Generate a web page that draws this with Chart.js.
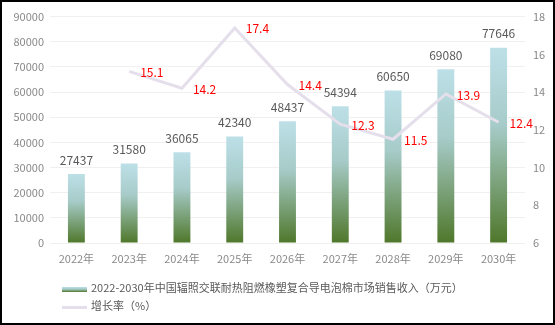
<!DOCTYPE html>
<html><head><meta charset="utf-8">
<script src="https://cdn.jsdelivr.net/npm/chart.js@4"></script>
<style>
html,body{margin:0;padding:0;background:#fff;}
#wrap{position:relative;width:555px;height:325px;box-sizing:border-box;border:2px solid #000;background:#fff;}
#c{position:absolute;left:0;top:0;}
.lg{position:absolute;left:60px;font:11px "Noto Sans CJK SC","Noto Sans",sans-serif;color:#595959;white-space:nowrap;line-height:14px;}
.lg .sw{display:inline-block;width:25px;vertical-align:middle;margin-right:4px;}
</style></head>
<body>
<div id="wrap">
<canvas id="c" width="551" height="321"></canvas>
<div class="lg" style="top:278px"><span class="sw" style="height:5px;background:linear-gradient(#bde0e8,#a2c8c4 45%,#4f772a)"></span><span id="lg1"></span></div>
<div class="lg" style="top:296px"><span class="sw" style="height:3px;background:#e4dfeb"></span><span id="lg2"></span></div>
</div>
<script>
const categories = ['2022年','2023年','2024年','2025年','2026年','2027年','2028年','2029年','2030年'];
const revenue = [27437,31580,36065,42340,48437,54394,60650,69080,77646];
const growth = [null,15.1,14.2,17.4,14.4,12.3,11.5,13.9,12.4];
const seriesNames = ['2022-2030年中国辐照交联耐热阻燃橡塑复合导电泡棉市场销售收入（万元）','增长率（%）'];

document.getElementById('lg1').textContent = seriesNames[0];
document.getElementById('lg2').textContent = seriesNames[1];

const FONT = '"Noto Sans CJK SC","Noto Sans",sans-serif';

function barGradient(context){
  const chart = context.chart;
  if(!chart.chartArea) return '#a2c8c4';
  const y = chart.scales.y;
  const top = y.getPixelForValue(context.raw);
  const bot = y.getPixelForValue(0);
  const g = chart.ctx.createLinearGradient(0, top, 0, bot);
  g.addColorStop(0, '#bde0e8');
  g.addColorStop(0.4, '#a6cbc8');
  g.addColorStop(1, '#4f772a');
  return g;
}

const labelPlugin = {
  id:'labels',
  afterDatasetsDraw(chart){
    const c = chart.ctx;
    c.save();
    const bars = chart.getDatasetMeta(0).data;
    c.font = '12px ' + FONT;
    c.fillStyle = '#595959';
    c.textAlign = 'center';
    c.textBaseline = 'middle';
    bars.forEach((b,i)=>{ c.fillText(String(revenue[i]), b.x, b.y - 14); });
    const pts = chart.getDatasetMeta(1).data;
    c.fillStyle = '#ff0000';
    c.textAlign = 'left';
    pts.forEach((p,i)=>{ if(growth[i]==null) return; c.fillText(growth[i].toFixed(1), p.x + 11, p.y + 1); });
    c.restore();
  }
};

new Chart(document.getElementById('c'), {
  type:'bar',
  data:{
    labels: categories,
    datasets:[
      {type:'bar', label:seriesNames[0], data:revenue, yAxisID:'y', backgroundColor:barGradient,
       barPercentage:0.32, categoryPercentage:1, order:2},
      {type:'line', label:seriesNames[1], data:growth, yAxisID:'y1', borderColor:'#e4dfeb', borderWidth:3,
       pointRadius:0, fill:false, tension:0, order:1}
    ]
  },
  options:{
    responsive:false, animation:false,
    layout:{padding:{top:8,left:0,right:0,bottom:0}},
    plugins:{legend:{display:false}, tooltip:{enabled:false}},
    scales:{
      x:{grid:{display:false, drawTicks:false}, border:{display:false},
         ticks:{color:'#898989', font:{size:11, family:FONT}, padding:9, maxRotation:0},
         afterFit(s){ s.height = 80; }},
      y:{position:'left', min:0, max:90000, ticks:{stepSize:10000, color:'#898989', font:{size:11, family:FONT}, padding:6,
           callback:(v)=>String(v)},
         grid:{color:'#f0f0f0', drawTicks:false}, border:{display:false},
         afterFit(s){ s.width = 48; }},
      y1:{position:'right', min:6, max:18, ticks:{stepSize:2, color:'#898989', font:{size:11, family:FONT}, padding:8,
           callback:(v)=>String(v)},
         grid:{display:false, drawTicks:false}, border:{display:false},
         afterFit(s){ s.width = 28; }}
    }
  },
  plugins:[labelPlugin]
});
</script>
</body></html>
